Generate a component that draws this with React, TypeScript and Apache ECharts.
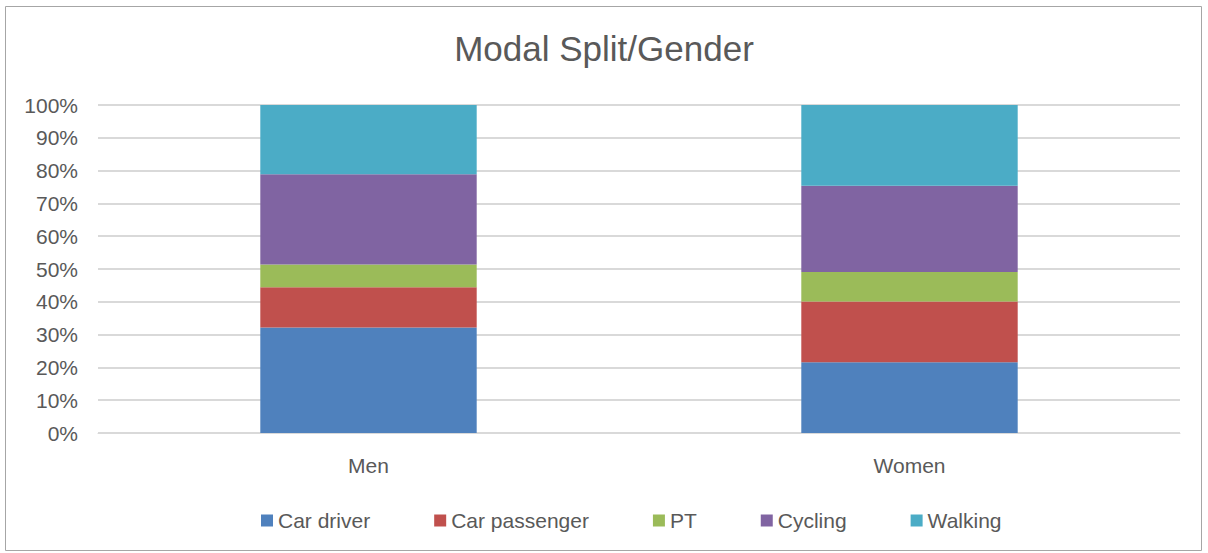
import React, { useEffect, useRef } from "react";
import * as echarts from "echarts";

const categories = ["Men", "Women"];
const seriesNames = ["Car driver", "Car passenger", "PT", "Cycling", "Walking"];
const carDriver = [32.2, 21.6];
const carPassenger = [12.2, 18.5];
const pt = [7.0, 9.0];
const cycling = [27.5, 26.3];
const walking = [21.1, 24.6];
const colors = ["#4f81bd", "#c0504d", "#9bbb59", "#8064a2", "#4bacc6"];
const font = "Liberation Sans";

export default function App() {
  const ref = useRef<HTMLDivElement>(null);
  useEffect(() => {
    document.body.style.margin = "0";
    const chart = echarts.init(ref.current!, null, { renderer: "svg" });
    const values = [carDriver, carPassenger, pt, cycling, walking];
    chart.setOption({
      animation: false,
      color: colors,
      title: {
        text: "Modal Split/Gender",
        left: "center",
        top: 26,
        textStyle: { fontFamily: font, fontSize: 35, fontWeight: "normal", color: "#595959" },
      },
      graphic: [
        {
          type: "rect",
          shape: { x: 5.5, y: 6.5, width: 1196, height: 544 },
          style: { fill: "none", stroke: "#a6a6a6", lineWidth: 1 },
          silent: true,
        },
      ],
      legend: {
        top: 505,
        left: 256,
        itemWidth: 12,
        itemHeight: 12,
        itemGap: 64,
        icon: "rect",
        textStyle: { fontFamily: font, fontSize: 21, color: "#595959" },
        data: seriesNames,
      },
      grid: { left: 98, right: 28, top: 105, bottom: 120, containLabel: false },
      xAxis: {
        type: "category",
        data: categories,
        axisLine: { lineStyle: { color: "#d9d9d9", width: 1 } },
        axisTick: { show: false },
        axisLabel: { fontFamily: font, fontSize: 21, color: "#595959", margin: 22 },
      },
      yAxis: {
        type: "value",
        min: 0,
        max: 100,
        interval: 10,
        axisLine: { show: false },
        axisTick: { show: false },
        splitLine: { lineStyle: { color: "#d9d9d9", width: 2 } },
        axisLabel: {
          fontFamily: font,
          fontSize: 21,
          color: "#595959",
          margin: 20,
          formatter: (v: number) => v + "%",
        },
      },
      series: seriesNames.map((name, i) => ({
        name,
        type: "bar",
        stack: "total",
        barWidth: "40%",
        data: values[i],
        itemStyle: { color: colors[i] },
      })),
    });
    return () => chart.dispose();
  }, []);
  return <div ref={ref} style={{ width: 1208, height: 553 }} />;
}
